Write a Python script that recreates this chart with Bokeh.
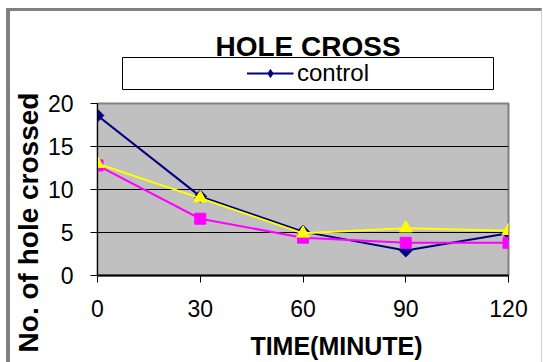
import numpy as np
from bokeh.plotting import figure
from bokeh.layouts import column, row
from bokeh.models import Range1d, FixedTicker, Legend, LegendItem, Label
from bokeh.embed import file_html
from bokeh.resources import INLINE

# ---- data ----
time_min = [0, 30, 60, 90, 120]
control = [18.6, 9.2, 5.1, 2.9, 4.9]
group2 = [12.8, 6.6, 4.4, 3.8, 3.8]
group3 = [13.0, 9.0, 4.9, 5.5, 5.2]
x_ticks = [0, 30, 60, 90, 120]
y_ticks = [0, 5, 10, 15, 20]
title_text = "HOLE CROSS"
x_label = "TIME(MINUTE)"
y_label = "No. of hole crossed"
legend_label = "control"

FONT = "Liberation Sans"
NAVY, MAGENTA, YELLOW = "#000080", "#FF00FF", "#FFFF00"


def strip(w, h):
    s = figure(width=w, height=h, output_backend="svg", toolbar_location=None,
               x_range=Range1d(0, w), y_range=Range1d(0, h),
               x_axis_location=None, y_axis_location=None, title_location=None,
               min_border=0)
    s.grid.visible = False
    s.outline_line_color = None
    s.background_fill_color = "white"
    s.border_fill_color = "white"
    return s


# ---------------- top strip: title + legend box ----------------
top = figure(width=531, height=79, output_backend="svg", toolbar_location=None,
             x_range=Range1d(0, 1), y_range=Range1d(0, 1),
             x_axis_location=None, y_axis_location=None,
             min_border_left=112, min_border_right=48, min_border_top=46, min_border_bottom=1)
top.grid.visible = False
top.background_fill_color = "white"
top.border_fill_color = "white"
top.outline_line_color = "black"
top.outline_line_width = 1
top.title.text = title_text
top.title.align = "center"
top.title.text_font = FONT
top.title.text_font_size = "28px"
top.title.text_font_style = "bold"
top.title.text_color = "black"
top.title.vertical_align = "bottom"
top.title.standoff = -8

# legend sample renderers (no visible data, only used for the legend swatch)
lg_line = top.line(x=[np.nan], y=[np.nan], line_color=NAVY, line_width=2)
lg_mark = top.scatter(x=[np.nan], y=[np.nan], marker="diamond", size=14,
                      fill_color=NAVY, line_color=NAVY)
legend = Legend(items=[LegendItem(label=legend_label, renderers=[lg_line, lg_mark])],
                location="center", border_line_color=None,
                background_fill_alpha=0, padding=0, margin=0,
                glyph_width=47, glyph_height=20, label_standoff=4,
                label_text_font=FONT, label_text_font_size="24px",
                label_text_color="black")
top.add_layout(legend, "center")

# ---------------- y-axis title strip ----------------
ystrip = strip(34, 272)
ystrip.add_layout(Label(x=18, y=140, text=y_label, angle=np.pi / 2,
                        text_align="center", text_baseline="middle",
                        text_font=FONT, text_font_size="28px", text_font_style="bold",
                        text_color="black"))

# ---------------- main chart ----------------
p = figure(width=497, height=238, output_backend="svg", toolbar_location=None,
           x_range=Range1d(0, 120), y_range=Range1d(0, 20), title_location=None,
           min_border_left=53, min_border_right=33, min_border_top=13, min_border_bottom=53)
p.background_fill_color = "#C0C0C0"
p.border_fill_color = "white"
p.outline_line_color = "#808080"
p.outline_line_width = 2

p.xaxis.ticker = FixedTicker(ticks=x_ticks)
p.yaxis.ticker = FixedTicker(ticks=y_ticks)
for ax in (p.xaxis[0], p.yaxis[0]):
    ax.axis_line_color = "black"
    ax.major_tick_line_color = "black"
    ax.major_tick_out = 7
    ax.major_tick_in = 0
    ax.minor_tick_line_color = None
    ax.major_label_text_font = FONT
    ax.major_label_text_font_size = "23px"
    ax.major_label_text_color = "black"
p.xaxis.axis_line_width = 2
p.yaxis.axis_line_width = 1
p.yaxis.major_label_standoff = 17
p.xaxis.major_label_standoff = 17
p.yaxis.major_label_orientation = "horizontal"

p.xgrid.grid_line_color = None
p.ygrid.ticker = FixedTicker(ticks=[5, 10, 15])
p.ygrid.grid_line_color = "black"
p.ygrid.grid_line_width = 1

p.line(time_min, control, line_color=NAVY, line_width=2)
p.scatter(time_min, control, marker="square", angle=np.pi / 4, size=9,
          fill_color=NAVY, line_color=NAVY)
p.line(time_min, group2, line_color=MAGENTA, line_width=2)
p.scatter(time_min, group2, marker="square", size=11,
          fill_color=MAGENTA, line_color=MAGENTA)
p.line(time_min, group3, line_color=YELLOW, line_width=2)
p.scatter(time_min, group3, marker="triangle", size=13,
          fill_color=YELLOW, line_color=YELLOW)

# ---------------- x-axis title strip ----------------
xstrip = strip(497, 34)
xstrip.add_layout(Label(x=289, y=17, text=x_label, text_align="center",
                        text_baseline="middle", text_font=FONT,
                        text_font_size="25px", text_font_style="bold",
                        text_color="black"))

layout = column(top, row(ystrip, column(p, xstrip, spacing=0), spacing=0), spacing=0)
layout.styles = {"margin-left": "6px", "margin-top": "8px",
                 "border-left": "4px solid #808080", "border-top": "3px solid #808080",
                 "border-right": "1px solid #d0d0d0"}

open("out.html", "w").write(file_html(layout, INLINE))
